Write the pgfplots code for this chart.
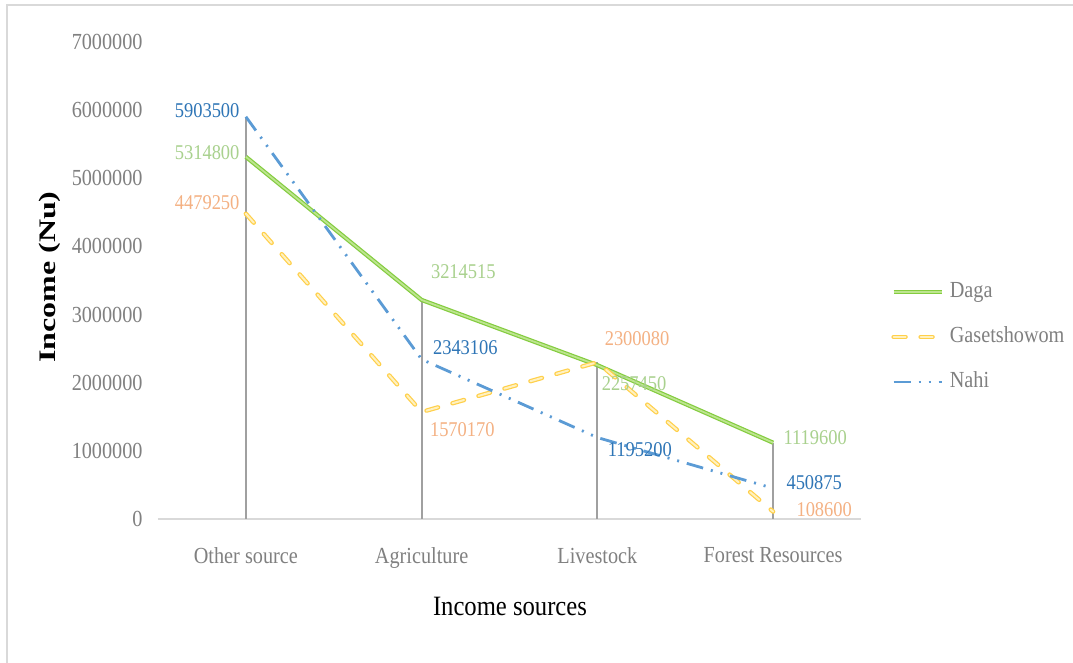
\documentclass[border=0pt]{standalone}
\usepackage{fontspec}
\setmainfont{Liberation Serif}[FakeStretch=0.88]
\newfontfamily\titlefont{Liberation Serif}
\usepackage{pgfplots}
\pgfplotsset{compat=1.18}
\usepackage{pgfplotstable}

\definecolor{tickgray}{HTML}{808080}
\definecolor{axisgray}{HTML}{D9D9D9}
\definecolor{dropgray}{HTML}{A0A0A0}
\definecolor{dagaedge}{HTML}{84CC3F}
\definecolor{dagain}{HTML}{BDE58F}
\definecolor{gasetedge}{HTML}{FFD04A}
\definecolor{gasetin}{HTML}{FFF1C0}
\definecolor{nahiline}{HTML}{5B9BD5}
\definecolor{dagalab}{HTML}{A9D18E}
\definecolor{gasetlab}{HTML}{F4B183}
\definecolor{nahilab}{HTML}{2E75B6}

% x = category, y = income, dx/dy = label offset (pt), anc = label anchor angle (0 east, 180 west)
\pgfplotstableread{
x y dx dy anc
0 5314800 -3 2 0
1 3214515 4.5 14 180
2 2257450 2 -9 180
3 1119600 5 2.5 180
}\daga
\pgfplotstableread{
x y dx dy anc
0 4479250 -3 5.5 0
1 1570170 4 -9 180
2 2300080 3.5 12 180
3 108600 11.5 1 180
}\gaset
\pgfplotstableread{
x y dx dy anc
0 5903500 -3 3 0
1 2343106 5.5 6 180
2 1195200 5 -6 180
3 450875 6.5 3 180
}\nahi

\pgfplotsset{
  labelled/.style={
    draw=none, forget plot,
    point meta=explicit symbolic,
    visualization depends on={\thisrow{dx}\as\ldx},
    visualization depends on={\thisrow{dy}\as\ldy},
    visualization depends on={\thisrow{anc}\as\lanc},
    nodes near coords,
    every node near coord/.append style={anchor=\lanc, xshift=\ldx pt, yshift=\ldy pt,
        inner sep=0pt, font=\fontsize{10.5}{12}\selectfont, text=#1},
  },
}

\begin{document}
\begin{tikzpicture}
\useasboundingbox[fill=white] (-79pt,-72pt) rectangle (457.5pt,259.5pt);
\draw[axisgray, line width=1.2pt] (-75.5pt,-72pt) -- (-75.5pt,257pt) -- (457.5pt,257pt);
\begin{axis}[
    at={(0,0)}, anchor=south west,
    width=351.5pt, height=238.5pt, scale only axis,
    xmin=-0.5, xmax=3.5, ymin=0, ymax=7000000,
    clip=false,
    axis lines*=left,
    x axis line style={draw=axisgray, line width=1pt, -},
    y axis line style={draw=none},
    tick style={draw=none},
    xtick={0,1,2,3},
    xticklabels={Other source, Agriculture, Livestock, Forest Resources},
    ytick={0,1000000,...,7000000},
    scaled y ticks=false,
    yticklabel={\pgfmathprintnumber[fixed,precision=0,1000 sep={}]{\tick}},
    /pgf/number format/assume math mode=true,
    ticklabel style={font=\fontsize{11.5}{13}\selectfont, text=tickgray, inner sep=0pt},
    xticklabel shift=14pt,
    yticklabel shift=7.5pt,
    xlabel={Income sources},
    xlabel style={at={(axis description cs:0.5007,-0.1824)}, anchor=center,
        font=\fontsize{14}{16}\selectfont, inner sep=0pt},
    ylabel={\scalebox{1}[0.74]{\titlefont\bfseries Income (Nu)}},
    ylabel style={at={(axis description cs:-0.1536,0.507)}, anchor=center,
        font=\fontsize{16}{18}\selectfont, inner sep=0pt},
    legend style={at={(axis description cs:1.0427,0.3816)}, anchor=west,
        draw=none, fill=none, inner sep=0pt, row sep=12pt, column sep=3pt,
        font=\fontsize{11.5}{13}\selectfont, text=tickgray,
        nodes={inner sep=0pt, text height=8pt, text depth=2.5pt},
        cells={anchor=west}},
    legend image code/.code={\draw[#1] (0pt,0pt) -- (24pt,0pt);},
]
% drop lines to the highest value in each category
\addplot[ycomb, draw=dropgray, line width=0.9pt, forget plot] coordinates {
    (0,5903500) (1,3214515) (2,2300080) (3,1119600)
};

\addplot[draw=dagaedge, double=dagain, double distance=0.9pt, line width=0.6pt]
    table[x=x, y=y] {\daga};
\addlegendentry{Daga}

\addplot[draw=gasetedge, double=gasetin, double distance=1pt, line width=0.6pt,
    line cap=round, dash pattern=on 6pt off 7.5pt]
    table[x=x, y=y] {\gaset};
\addlegendentry{Gasetshowom}

\addplot[draw=nahiline, line width=1.4pt,
    dash pattern=on 8.5pt off 4pt on 1pt off 4pt on 1pt off 4pt]
    table[x=x, y=y] {\nahi};
\addlegendentry{Nahi}

% data labels
\addplot[labelled=dagalab] table[x=x, y=y, meta=y] {\daga};
\addplot[labelled=gasetlab] table[x=x, y=y, meta=y] {\gaset};
\addplot[labelled=nahilab] table[x=x, y=y, meta=y] {\nahi};
\end{axis}
\end{tikzpicture}
\end{document}
